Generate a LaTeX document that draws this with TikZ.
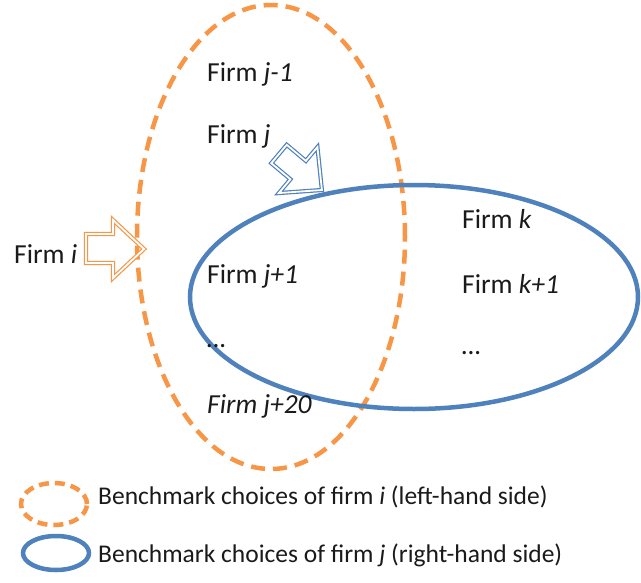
\documentclass[tikz,border=0pt]{standalone}
\usepackage{fontspec}
\setmainfont{Carlito}
\definecolor{orng}{HTML}{F79646}
\definecolor{blu}{HTML}{4F81BD}
\definecolor{txt}{HTML}{1A1A1A}
\begin{document}
\begin{tikzpicture}[x=1pt,y=-1pt,
  lbl/.style={anchor=west,inner sep=0pt,text=txt,font=\fontsize{27.5}{32}\selectfont},
  leg/.style={anchor=west,inner sep=0pt,text=txt,font=\fontsize{25.5}{30}\selectfont},
  orangeset/.style={draw=orng,line width=4.5pt,dash pattern=on 14pt off 8pt},
  blueset/.style={draw=blu,line width=4.5pt},
  blockarrow/.style={line width=1.2pt,double=white,double distance=1.8pt,line join=miter}]
\useasboundingbox (0,0) rectangle (641,582);
% main ellipses
\draw[orangeset] (271,237) ellipse [x radius=134pt, y radius=232pt];
\draw[blueset] (414,297) ellipse [x radius=224pt, y radius=112pt];
% labels
\node[lbl] (fjm1) at (207,74) {Firm \textit{j-1}};
\node[lbl] (fj) at (207,136) {Firm \textit{j}};
\node[lbl] (fk) at (462,219) {Firm \textit{k}};
\node[lbl] (fjp1) at (207,276) {Firm \textit{j+1}};
\node[lbl] (fkp1) at (462,284) {Firm \textit{k+1}};
\node[lbl] (dots1) at (207,346) {\textit{\dots}};
\node[lbl] (dots2) at (462,353) {\textit{\dots}};
\node[lbl] (fj20) at (207,406) {\textit{Firm j+20}};
\node[lbl] (fi) at (14,254) {Firm \textit{i}};
% Firm i arrow
\draw[blockarrow,draw=orng] (86,234) -- (113,234) -- (113,220) -- (144,249) -- (113,278) -- (113,263) -- (86,263) -- cycle;
% Firm j arrow
\begin{scope}[shift={(279,154)},rotate=-40]
\draw[blockarrow,draw=blu] (0,-12) -- (25,-12) -- (25,-30) -- (56,0) -- (25,30) -- (25,12) -- (0,12) -- cycle;
\end{scope}
% legend
\draw[draw=orng,line width=4.5pt,dash pattern=on 10pt off 6pt] (54,504) ellipse [x radius=33pt, y radius=21pt];
\draw[blueset] (56,553) ellipse [x radius=33pt, y radius=17pt];
\node[leg] (l1) at (98,497) {Benchmark choices of firm \textit{i} (left-hand side)};
\node[leg] (l2) at (98,555) {Benchmark choices of firm \textit{j} (right-hand side)};
\end{tikzpicture}
\end{document}
